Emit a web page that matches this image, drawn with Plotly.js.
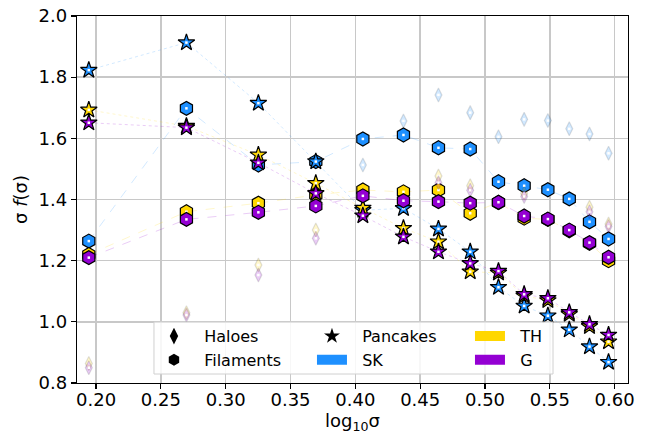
<!DOCTYPE html>
<html>
<head>
<meta charset="utf-8">
<script src="https://cdn.plot.ly/plotly-3.0.1.min.js"></script>
<style>html,body{margin:0;padding:0;background:#fff}#chart{width:663px;height:436px}</style>
</head>
<body>
<div id="chart"></div>
<script>
// log10(sigma) positions
const logSigma = [0.1944, 0.2697, 0.3252, 0.3695, 0.4058, 0.4371, 0.4641, 0.4886, 0.5104, 0.5302, 0.5485, 0.5650, 0.5806, 0.5953];

// Haloes (faint diamonds)
const SK_haloes = [null, null, null, null, 1.513, 1.657, 1.742, 1.684, 1.605, 1.662, 1.658, 1.631, 1.614, 1.551];
const TH_haloes = [0.864, 1.030, 1.186, 1.300, null, null, 1.477, 1.445, null, 1.420, null, null, 1.375, 1.320];
const G_haloes  = [0.850, 1.022, 1.153, 1.273, null, null, 1.455, 1.430, null, 1.410, null, null, 1.360, 1.312];

// Filaments (hexagons)
const SK_filaments = [1.264, 1.698, 1.513, 1.524, 1.598, 1.611, 1.569, 1.565, 1.458, 1.445, 1.432, 1.402, 1.327, 1.271];
const TH_filaments = [1.220, 1.360, 1.388, 1.415, 1.431, 1.425, 1.431, 1.355, 1.390, 1.339, 1.335, 1.298, 1.257, 1.200];
const G_filaments  = [1.210, 1.335, 1.358, 1.379, 1.412, 1.396, 1.393, 1.388, 1.391, 1.346, 1.336, 1.300, 1.259, 1.211];

// Pancakes (stars)
const SK_pancakes = [1.823, 1.913, 1.715, 1.524, 1.365, 1.371, 1.304, 1.229, 1.113, 1.052, 1.020, 0.974, 0.919, 0.868];
const TH_pancakes = [1.693, 1.640, 1.546, 1.453, 1.372, 1.306, 1.262, 1.164, 1.160, 1.085, 1.070, 1.025, 0.985, 0.935];
const G_pancakes  = [1.651, 1.635, 1.520, 1.420, 1.347, 1.278, 1.229, 1.191, 1.166, 1.090, 1.077, 1.031, 0.992, 0.957];

const modelNames = ['SK', 'TH', 'G'];
const modelColors = {SK: '#1E90FF', TH: '#FFD700', G: '#9400D3'};
const modelRGB = {SK: '30,144,255', TH: '255,215,0', G: '148,0,211'};
const structNames = ['Haloes', 'Filaments', 'Pancakes'];

const dataSets = {
  SK: {Haloes: SK_haloes, Filaments: SK_filaments, Pancakes: SK_pancakes},
  TH: {Haloes: TH_haloes, Filaments: TH_filaments, Pancakes: TH_pancakes},
  G:  {Haloes: G_haloes,  Filaments: G_filaments,  Pancakes: G_pancakes}
};

const symbolOf = {Haloes: 'diamond-tall', Filaments: 'hexagon', Pancakes: 'star'};
const sizeOf = {Haloes: 10, Filaments: 14, Pancakes: 12.5};
const dashOf = {Haloes: 'dashdot', Filaments: 'dash', Pancakes: 'dot'};

const traces = [];
modelNames.forEach(m => {
  structNames.forEach(s => {
    const y = dataSets[m][s];
    const faint = s === 'Haloes';
    traces.push({
      type: 'scatter', mode: faint ? 'markers' : 'lines+markers', x: logSigma, y: y,
      connectgaps: true, showlegend: false, hoverinfo: 'skip',
      line: {color: 'rgba(' + modelRGB[m] + ',0.2)', width: 1, dash: dashOf[s]},
      marker: {
        symbol: symbolOf[s], size: sizeOf[s],
        color: faint ? 'rgba(' + modelRGB[m] + ',0.2)' : modelColors[m],
        line: {color: faint ? 'rgba(0,0,0,0.12)' : '#000000', width: 1.2}
      }
    });
    traces.push({
      type: 'scatter', mode: 'markers', x: logSigma, y: y,
      showlegend: false, hoverinfo: 'skip',
      marker: {symbol: 'square', size: 2.5, color: '#ffffff', line: {width: 0}}
    });
  });
});

// Legend entries
const NB = '\u00A0\u00A0';
const legendEntries = [
  {name: 'Haloes', rank: 1, kind: 'marker', symbol: 'diamond-tall', size: 12},
  {name: 'Pancakes', rank: 2, kind: 'marker', symbol: 'star', size: 12},
  {name: 'TH', rank: 3, kind: 'patch', color: modelColors.TH},
  {name: 'Filaments', rank: 4, kind: 'marker', symbol: 'hexagon', size: 12},
  {name: 'SK', rank: 5, kind: 'patch', color: modelColors.SK},
  {name: 'G', rank: 6, kind: 'patch', color: modelColors.G}
];
legendEntries.forEach(e => {
  if (e.kind === 'marker') {
    traces.push({type: 'scatter', mode: 'markers', x: [null], y: [null], name: NB + e.name,
      legendrank: e.rank, showlegend: true,
      marker: {symbol: e.symbol, size: e.size, color: '#000000', line: {width: 0}}});
  } else {
    traces.push({type: 'scatter', mode: 'lines', x: [null], y: [null], name: NB + e.name,
      legendrank: e.rank, showlegend: true,
      line: {color: e.color, width: 12}});
  }
});

const layout = {
  width: 663, height: 436,
  margin: {l: 77, r: 35, t: 16, b: 53},
  paper_bgcolor: '#ffffff', plot_bgcolor: '#ffffff',
  font: {family: 'DejaVu Sans', color: '#000000', size: 18},
  xaxis: {
    range: [0.1853, 0.6103], dtick: 0.05, tick0: 0, tickformat: '.2f',
    showgrid: true, gridcolor: '#c8c8c8', gridwidth: 1.4,
    zeroline: false, showline: true, linecolor: '#000', linewidth: 1.2, mirror: true,
    ticks: 'outside', ticklen: 5, tickwidth: 1.2, tickcolor: '#000',
    ticklabelstandoff: -5,
    tickfont: {size: 18},
    title: {text: 'log<sub>10</sub>σ', font: {size: 18}, standoff: 1}
  },
  yaxis: {
    range: [0.8, 2.0], dtick: 0.2, tick0: 0, tickformat: '.1f',
    showgrid: true, gridcolor: '#c8c8c8', gridwidth: 1.4,
    zeroline: false, showline: true, linecolor: '#000', linewidth: 1.2, mirror: true,
    ticks: 'outside', ticklen: 5, tickwidth: 1.2, tickcolor: '#000',
    tickfont: {size: 18},
    title: {text: 'σ <i>f</i>(σ)', font: {size: 18}, standoff: 6}
  },
  legend: {
    orientation: 'h', x: 0.1397, y: 0.174, xanchor: 'left', yanchor: 'top',
    entrywidth: 113, entrywidthmode: 'pixels',
    bgcolor: 'rgba(0,0,0,0)', borderwidth: 0,
    font: {size: 16, family: 'DejaVu Sans'}, traceorder: 'normal'
  },
  shapes: [{
    type: 'rect', xref: 'paper', yref: 'paper', layer: 'above',
    x0: 0.1397, x1: 0.8639, y0: 0.0245, y1: 0.1662,
    fillcolor: 'rgba(255,255,255,0.85)', line: {color: '#d0d0d0', width: 1}
  }],
  showlegend: true
};

Plotly.newPlot('chart', traces, layout, {displayModeBar: false, staticPlot: true});
</script>
</body>
</html>
